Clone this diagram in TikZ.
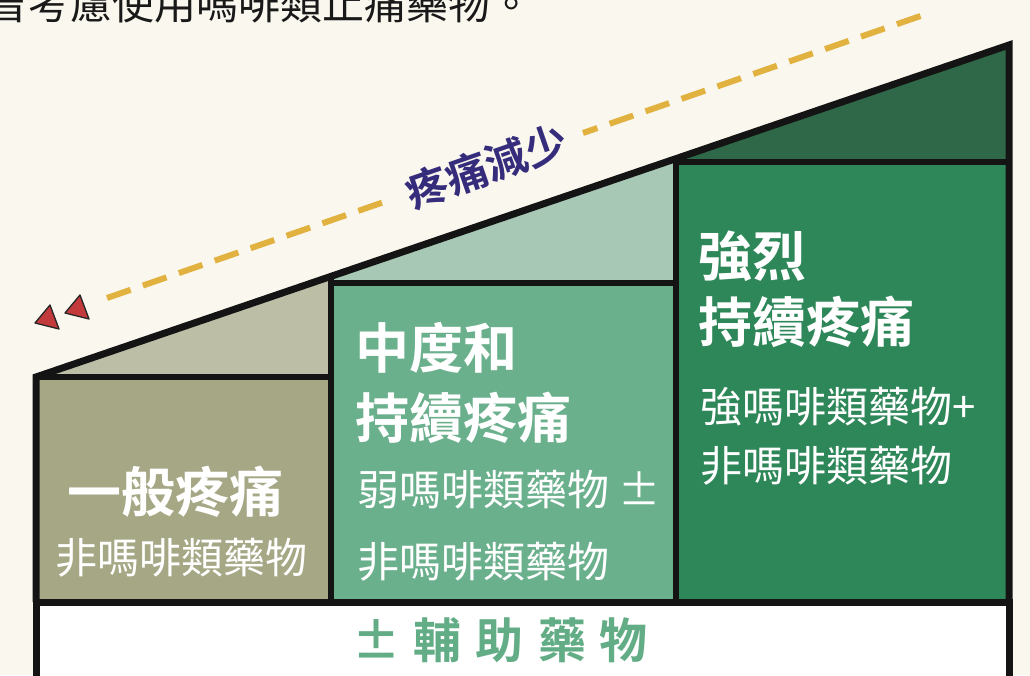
\documentclass[tikz,border=0pt]{standalone}
\usepackage{fontspec}
\setmainfont{Noto Sans CJK TC}[BoldFont={Noto Sans CJK TC Bold}]
\usepackage{xcolor}
\usepackage{tikz}
\usetikzlibrary{positioning}

\definecolor{bgcream}{HTML}{FAF7EE}
\definecolor{wedgeA}{HTML}{BDBEA6}
\definecolor{boxA}{HTML}{A6A785}
\definecolor{wedgeB}{HTML}{A8C8B6}
\definecolor{boxB}{HTML}{6BB08D}
\definecolor{wedgeC}{HTML}{2F6848}
\definecolor{boxC}{HTML}{2E8759}
\definecolor{adjgreen}{HTML}{62AD85}
\definecolor{dashgold}{HTML}{E2B240}
\definecolor{headred}{HTML}{C23A3C}
\definecolor{labelnavy}{HTML}{352C7C}

\begin{document}
\begin{tikzpicture}[x=1pt,y=-1pt,
  title/.style={anchor=west, inner sep=0pt, text=white, font=\fontsize{54}{60}\selectfont\bfseries},
  sub/.style={anchor=west, inner sep=0pt, text=white, font=\fontsize{42}{48}\selectfont},
  edge/.style={line width=7pt, black!92},
  divider/.style={line width=6pt, black!92},
  arrowhead/.style={fill=headred, draw=black!85, line width=1.3pt, line join=round},
]
  % page
  \useasboundingbox[fill=bgcream] (0,0) rectangle (1030,675);

  % clipped top sentence
  \node[anchor=west, inner sep=0pt, text=black!90, font=\fontsize{42}{48}\selectfont]
    (topline) at (-14,4) {曾考慮使用嗎啡類止痛藥物。};

  % ---- wedges above the steps ----
  \fill[wedgeA] (36,377) -- (331,276) -- (331,377) -- cycle;
  \fill[wedgeB] (331,276) -- (676,159) -- (676,283) -- (331,283) -- cycle;
  \fill[wedgeC] (676,159) -- (1009,45) -- (1009,162) -- (676,162) -- cycle;

  % ---- steps ----
  \fill[boxA] (36,377) rectangle (331,602);
  \fill[boxB] (331,283) rectangle (676,602);
  \fill[boxC] (676,162) rectangle (1009,602);

  % thick outline
  \draw[edge] (36,602) -- (36,377) -- (1009,45) -- (1009,602);
  \draw[divider] (36,377) -- (331,377);
  \draw[divider] (331,283) -- (676,283);
  \draw[divider] (676,162) -- (1009,162);
  \draw[divider] (331,276) -- (331,602);
  \draw[divider] (676,159) -- (676,602);

  % bottom band
  \draw[edge, fill=white] (36,602) rectangle (1009,700);
  \node[inner sep=0pt, text=adjgreen, font=\fontsize{48}{54}\selectfont\bfseries]
    (adjuvant) at (500,640) {±\hspace{14pt}輔\hspace{14pt}助\hspace{14pt}藥\hspace{14pt}物};

  % ---- step texts ----
  \node[title, anchor=center] (mildT) at (175,492) {一般疼痛};
  \node[sub, anchor=center] (mildS) at (181,558) {非嗎啡類藥物};

  \node[title] (modT1) at (355,348) {中度和};
  \node[title] (modT2) at (355,418) {持續疼痛};
  \node[sub] (modS1) at (357,490) {弱嗎啡類藥物 ±};
  \node[sub] (modS2) at (357,562) {非嗎啡類藥物};

  \node[title] (sevT1) at (698,256) {強烈};
  \node[title] (sevT2) at (698,322) {持續疼痛};
  \node[sub] (sevS1) at (700,407) {強嗎啡類藥物+};
  \node[sub] (sevS2) at (700,466) {非嗎啡類藥物};

  % ---- dashed arrow ----
  \coordinate (dashTail) at (932,12);
  \coordinate (dashHead) at (107,298);
  \draw[dashgold, line width=6pt, dash pattern=on 25pt off 13pt] (dashHead) -- (dashTail)
    node[pos=0.46, sloped, fill=bgcream, inner xsep=18pt, inner ysep=2pt,
         text=labelnavy, font=\fontsize{42}{48}\selectfont\bfseries] (less) {疼痛減少};

  % two arrow heads
  \foreach \tx/\ty in {35/323, 65/313}{
    \draw[arrowhead] (\tx,\ty) -- ++(15,-18) -- ++(9,24) -- cycle;
  }
\end{tikzpicture}
\end{document}
